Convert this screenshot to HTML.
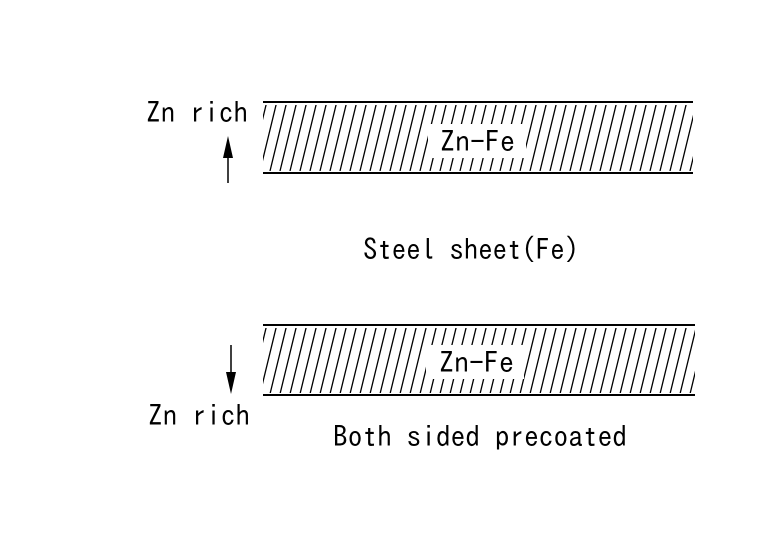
<!DOCTYPE html>
<html><head><meta charset="utf-8"><style>html,body{margin:0;padding:0;background:#fff}</style></head>
<body>
<svg width="768" height="544" xmlns="http://www.w3.org/2000/svg" font-family="IPAGothic, 'Liberation Sans', sans-serif" font-size="29" fill="#000">
<defs>
<clipPath id="c1"><rect x="263" y="105" width="430" height="66"/></clipPath>
<clipPath id="c2"><rect x="263" y="328" width="432" height="65"/></clipPath>
</defs>
<g clip-path="url(#c1)" stroke="#000" stroke-width="1.3">
<path id="hp" d="M250,171 l17,-70 M260,171 l17,-70 M270,171 l17,-70 M280,171 l17,-70 M290,171 l17,-70 M300,171 l17,-70 M310,171 l17,-70 M320,171 l17,-70 M330,171 l17,-70 M340,171 l17,-70 M350,171 l17,-70 M360,171 l17,-70 M370,171 l17,-70 M380,171 l17,-70 M390,171 l17,-70 M400,171 l17,-70 M410,171 l17,-70 M420,171 l17,-70 M430,171 l17,-70 M440,171 l17,-70 M450,171 l17,-70 M460,171 l17,-70 M470,171 l17,-70 M480,171 l17,-70 M490,171 l17,-70 M500,171 l17,-70 M510,171 l17,-70 M520,171 l17,-70 M530,171 l17,-70 M540,171 l17,-70 M550,171 l17,-70 M560,171 l17,-70 M570,171 l17,-70 M580,171 l17,-70 M590,171 l17,-70 M600,171 l17,-70 M610,171 l17,-70 M620,171 l17,-70 M630,171 l17,-70 M640,171 l17,-70 M650,171 l17,-70 M660,171 l17,-70 M670,171 l17,-70 M680,171 l17,-70 M690,171 l17,-70"/>
</g>
<g clip-path="url(#c2)" stroke="#000" stroke-width="1.3">
<use href="#hp" transform="translate(0,223)"/>
</g>
<rect x="428" y="124" width="98" height="34" fill="#fff"/>
<rect x="426" y="345" width="98" height="34" fill="#fff"/>
<line x1="263" y1="102" x2="693" y2="102" stroke="#000" stroke-width="2"/>
<line x1="263" y1="173" x2="693" y2="173" stroke="#000" stroke-width="2"/>
<line x1="263" y1="325" x2="695" y2="325" stroke="#000" stroke-width="2"/>
<line x1="263" y1="395" x2="695" y2="395" stroke="#000" stroke-width="2"/>
<text x="440" y="152" textLength="75" lengthAdjust="spacingAndGlyphs">Zn-Fe</text>
<text x="439" y="373" textLength="75" lengthAdjust="spacingAndGlyphs">Zn-Fe</text>

<text x="146" y="123" textLength="102" lengthAdjust="spacingAndGlyphs">Zn rich</text>
<text x="148" y="426" textLength="102" lengthAdjust="spacingAndGlyphs">Zn rich</text>
<text x="363" y="260" textLength="216" lengthAdjust="spacingAndGlyphs">Steel sheet(Fe)</text>
<text x="333" y="447" textLength="294" lengthAdjust="spacingAndGlyphs">Both sided precoated</text>

<line x1="228" y1="183" x2="228" y2="150" stroke="#000" stroke-width="1.5"/>
<polygon points="223,158 233,158 228,136" fill="#000"/>
<line x1="231" y1="345" x2="231" y2="378" stroke="#000" stroke-width="1.5"/>
<polygon points="226,372 236,372 231,394" fill="#000"/>
</svg>
</body></html>
